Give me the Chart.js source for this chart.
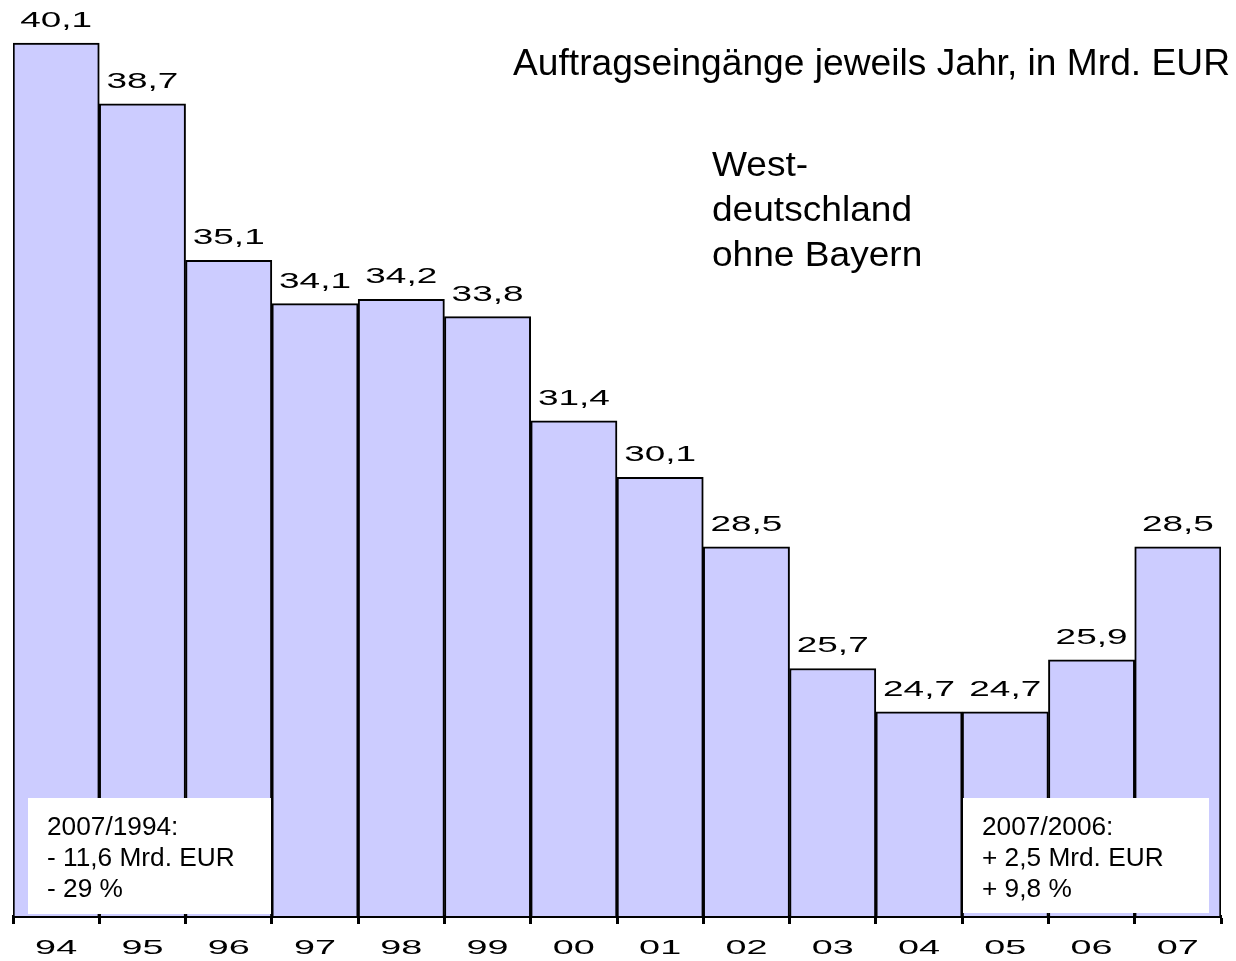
<!DOCTYPE html>
<html>
<head>
<meta charset="utf-8">
<script src="https://cdn.jsdelivr.net/npm/chart.js@4/dist/chart.umd.min.js"></script>
<style>
    html, body { margin: 0; padding: 0; background: #fff; }
    #wrap { width: 1236px; height: 961px; }
</style>
</head>
<body>
<div id="wrap"><canvas id="auftragChart"></canvas></div>
<script>
// Daten
const years = ['94', '95', '96', '97', '98', '99', '00', '01', '02', '03', '04', '05', '06', '07'];
const orders = [40.1, 38.7, 35.1, 34.1, 34.2, 33.8, 31.4, 30.1, 28.5, 25.7, 24.7, 24.7, 25.9, 28.5];
const titleText = 'Auftragseingänge jeweils Jahr, in Mrd. EUR';
const regionLines = ['West-', 'deutschland', 'ohne Bayern'];
const noteLeft = ['2007/1994:', '- 11,6 Mrd. EUR', '- 29 %'];
const noteRight = ['2007/2006:', '+ 2,5 Mrd. EUR', '+ 9,8 %'];

const FONT = '"Liberation Sans", Arial, sans-serif';

// Text horizontal gestreckt zeichnen
function wideText(ctx, text, x, y, sx, align) {
    ctx.save();
    ctx.translate(x, y);
    ctx.scale(sx, 1);
    ctx.textAlign = align;
    ctx.fillText(text, 0, 0);
    ctx.restore();
}

function fitText(ctx, text, x, y, width, align) {
    const sx = width / ctx.measureText(text).width;
    wideText(ctx, text, x, y, sx, align);
}

function noteBox(ctx, lines, x, y, w, h) {
    ctx.fillStyle = '#fff';
    ctx.fillRect(x, y, w, h);
    ctx.fillStyle = '#000';
    ctx.font = '25px ' + FONT;
    ctx.textBaseline = 'alphabetic';
    lines.forEach((t, i) => {
        wideText(ctx, t, x + 19, y + 37 + i * 31, 1.05, 'left');
    });
}

const labelPlugin = {
    id: 'labels',
    afterDatasetsDraw(chart) {
        const ctx = chart.ctx;
        const meta = chart.getDatasetMeta(0);
        ctx.save();
        ctx.fillStyle = '#000';
        ctx.textBaseline = 'alphabetic';
        // Werte ueber den Balken
        ctx.font = '22px ' + FONT;
        meta.data.forEach((bar, i) => {
            const txt = orders[i].toFixed(1).replace('.', ',');
            wideText(ctx, txt, bar.x, bar.y - 16, 1.68, 'center');
        });
        // Jahreszahlen
        const xScale = chart.scales.x;
        ctx.font = '21px ' + FONT;
        years.forEach((y, i) => {
            wideText(ctx, y, xScale.getPixelForValue(i), 954, 1.8, 'center');
        });
        // Titel
        ctx.font = '36px ' + FONT;
        fitText(ctx, titleText, 1230, 75, 717, 'right');
        ctx.font = '35px ' + FONT;
        const sx = 200 / ctx.measureText('deutschland').width;
        regionLines.forEach((t, i) => {
            wideText(ctx, t, 712, 176 + i * 45, sx, 'left');
        });
        // Kaesten
        noteBox(ctx, noteLeft, 28, 798, 243, 116);
        noteBox(ctx, noteRight, 963, 798, 246, 115);
        ctx.restore();
    }
};

new Chart(document.getElementById('auftragChart'), {
    type: 'bar',
    data: {
        labels: years,
        datasets: [{
            data: orders,
            backgroundColor: '#CCCCFF',
            borderColor: '#000',
            borderWidth: { top: 2, left: 2, right: 2, bottom: 0 },
            borderSkipped: 'bottom',
            barPercentage: 1,
            categoryPercentage: 1
        }]
    },
    options: {
        responsive: true,
        maintainAspectRatio: false,
        animation: false,
        layout: { padding: { left: 13, right: 15, top: 4, bottom: 37 } },
        scales: {
            x: {
                ticks: { display: false },
                grid: {
                    drawOnChartArea: false,
                    drawTicks: true,
                    tickLength: 8,
                    tickWidth: 3,
                    tickColor: '#000',
                    offset: true
                },
                border: { display: true, color: '#000', width: 3 }
            },
            y: {
                display: false,
                min: 20,
                max: 41
            }
        },
        plugins: {
            legend: { display: false },
            tooltip: { enabled: false }
        }
    },
    plugins: [labelPlugin]
});
</script>
</body>
</html>
